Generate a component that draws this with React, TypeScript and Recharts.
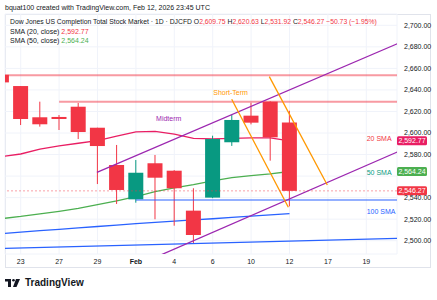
import React from 'react';
import {
  ComposedChart, Bar, Line, XAxis, YAxis, CartesianGrid, ReferenceLine, ReferenceDot,
} from 'recharts';

// ---- data ----
const dates = ['Jan 22', 'Jan 23', 'Jan 26', 'Jan 27', 'Jan 28', 'Jan 29', 'Jan 30', 'Feb 2', 'Feb 3', 'Feb 4', 'Feb 5', 'Feb 6', 'Feb 9', 'Feb 10', 'Feb 11', 'Feb 12'];
const opens = [2654, 2643.6, 2614.6, 2614.9, 2624.4, 2604.9, 2570.3, 2538.4, 2571.9, 2565.0, 2527.9, 2540.0, 2591.4, 2616.1, 2629.1, 2609.75];
const highs = [2656, 2643.6, 2629.1, 2616.7, 2627.9, 2604.9, 2588.9, 2574.9, 2579.6, 2565.5, 2548.7, 2597.5, 2616.7, 2628.1, 2629.5, 2620.63];
const lows = [2645, 2607.4, 2605.9, 2602.8, 2594.4, 2552.6, 2534.1, 2535.3, 2519.9, 2513.9, 2497.6, 2539.5, 2588.0, 2608.0, 2574.3, 2531.92];
const closes = [2647, 2613.0, 2608.1, 2613.0, 2600.9, 2587.9, 2547.1, 2563.1, 2558.5, 2548.7, 2505.3, 2594.4, 2612.1, 2609.6, 2596.0, 2546.27];
const sma20 = [2578, 2580.5, 2585, 2588, 2590.5, 2593, 2597, 2601, 2601.5, 2599, 2595, 2594.5, 2595, 2595.5, 2595.5, 2592.77];
const sma50 = [2520.5, 2522.5, 2525, 2527.3, 2530, 2533.5, 2537, 2541, 2545.5, 2549, 2552, 2555.5, 2558.5, 2560.5, 2562, 2564.24];
const sma100 = [2506.5, 2508, 2509.3, 2510.6, 2511.9, 2513.2, 2514.5, 2515.8, 2517, 2518.2, 2519.3, 2520.4, 2521.6, 2522.8, 2524, 2525.2];

const tickIdx = [1, 3, 5, 7, 9, 11, 13, 15, 17, 19];
const tickLabels = ['23', '27', '29', 'Feb', '4', '6', '10', '12', '17', '19'];
const priceTicks = [2500, 2520, 2540, 2560, 2580, 2600, 2620, 2640, 2660, 2680, 2700];
const hiddenPriceTicks = [2560];

// drawings (index, price)
const midUpper = [{ x: 4.97, y: 2563.4 }, { x: 21.8, y: 2691.9 }];
const midLower = [{ x: 7.8, y: 2482.9 }, { x: 21.8, y: 2591.6 }];
const shortA = [{ x: 11.99, y: 2631.3 }, { x: 14.94, y: 2531.0 }];
const shortB = [{ x: 13.95, y: 2652.3 }, { x: 16.97, y: 2551.7 }];
const resistTop = 2653.6;
const resist2 = [{ x: 3.0, y: 2629.1 }, { x: 22, y: 2629.1 }];
const supportBlue = [{ x: 7.0, y: 2537.8 }, { x: 22, y: 2537.8 }];
const blueTrend = [{ x: 0.18, y: 2492.9 }, { x: 20.6, y: 2502.2 }];
const lastClose = 2546.27;
const lastSma20 = 2592.77;
const lastSma50 = 2564.24;

const RED = '#f23645';
const GREEN = '#089981';
const PINK = '#e91e63';
const SGREEN = '#4caf50';
const BLUE = '#2962ff';
const PURPLE = '#9c27b0';
const ORANGE = '#ff9800';
const FONT = '"Liberation Sans", Arial, sans-serif';

const data = dates.map((d, i) => ({
  i,
  date: d,
  open: opens[i],
  high: highs[i],
  low: lows[i],
  close: closes[i],
  range: [lows[i], highs[i]],
  sma20: sma20[i],
  sma50: sma50[i],
  sma100: sma100[i],
}));

const fmt = (v: number) => v.toLocaleString('en-US', { minimumFractionDigits: 2, maximumFractionDigits: 2 });
const fmtTick = (v: number) => (hiddenPriceTicks.includes(v) ? '' : fmt(v));

const Candle = (props: any) => {
  const { x, y, width, height, payload } = props;
  if (!payload) return null;
  const { open, close, high, low } = payload;
  const top = Math.min(y, y + height);
  const bot = Math.max(y, y + height);
  const span = high - low || 1;
  const toPx = (p: number) => top + ((high - p) / span) * (bot - top);
  const color = close >= open ? GREEN : RED;
  const bTop = toPx(Math.max(open, close));
  const bBot = toPx(Math.min(open, close));
  const cx = x + width / 2;
  return (
    <g>
      <line x1={cx} x2={cx} y1={top} y2={bot} stroke={color} strokeWidth={1} />
      <rect x={x} y={bTop} width={width} height={Math.max(1, bBot - bTop)} fill={color} />
    </g>
  );
};

const TimeTick = (props: any) => {
  const { x, y, payload } = props;
  const k = tickIdx.indexOf(payload.value);
  const label = k >= 0 ? tickLabels[k] : '';
  return (
    <text x={x} y={y} dy={6} textAnchor="middle" fontSize={7} fontFamily={FONT}
      fill="#131722" fontWeight={label === 'Feb' ? 700 : 400}>{label}</text>
  );
};

const PriceTag = (props: any) => {
  const { viewBox, value, color } = props;
  if (!viewBox) return null;
  const bx = viewBox.x + viewBox.width;
  const by = viewBox.y;
  return (
    <g>
      <rect x={bx} y={by - 4.5} width={30} height={9} rx={1.5} fill={color} />
      <text x={bx + 15} y={by + 2.5} textAnchor="middle" fontSize={7} fontFamily={FONT} fill="#fff">{fmt(value)}</text>
    </g>
  );
};

const TextTag = (props: any) => {
  const { viewBox, text, color } = props;
  if (!viewBox) return null;
  return (
    <text x={viewBox.x} y={viewBox.y + 2.5} fontSize={7} fontFamily={FONT} fill={color}>{text}</text>
  );
};

export default function App() {
  return (
    <div style={{ position: 'fixed', left: 0, top: 0, width: 437, height: 300, background: '#fff', fontFamily: FONT }}>
      <div style={{ position: 'absolute', left: 5, top: 14, width: 426, height: 254, border: '1px solid #e0e3eb', boxSizing: 'border-box' }} />
      <ComposedChart width={437} height={300} data={data}
        margin={{ top: 14, right: 5, bottom: 31, left: 5 }}
        style={{ position: 'absolute', left: 0, top: 0 }}>
        <CartesianGrid stroke="#f0f3fa" />
        <XAxis dataKey="i" type="number" domain={[0.182, 20.6]} allowDataOverflow ticks={tickIdx}
          interval={0} tick={<TimeTick />} tickLine={false} axisLine={false} height={15} tickSize={2} />
        <YAxis orientation="right" type="number" domain={[2487.65, 2710.5]} allowDataOverflow ticks={priceTicks}
          interval={0} tickFormatter={fmtTick} tick={{ fontSize: 7, fill: '#131722', fontFamily: FONT }}
          tickLine={false} axisLine={false} width={35} tickSize={5} />
        <Line dataKey="sma100" stroke={BLUE} strokeWidth={1.3} dot={false} isAnimationActive={false} zIndex={250} />
        <Line dataKey="sma50" stroke={SGREEN} strokeWidth={1.3} dot={false} isAnimationActive={false} zIndex={250} />
        <Line dataKey="sma20" stroke={PINK} strokeWidth={1.3} dot={false} isAnimationActive={false} zIndex={250} />
        <Bar dataKey="range" barSize={15} shape={<Candle />} isAnimationActive={false} zIndex={300} />
        <ReferenceLine y={resistTop} stroke={RED} strokeOpacity={0.5} strokeWidth={2} zIndex={450} />
        <ReferenceLine segment={resist2} stroke={RED} strokeOpacity={0.5} strokeWidth={2} ifOverflow="hidden" zIndex={450} />
        <ReferenceLine segment={supportBlue} stroke={BLUE} strokeOpacity={0.5} strokeWidth={2} ifOverflow="hidden" zIndex={450} />
        <ReferenceLine segment={blueTrend} stroke={BLUE} strokeWidth={1.2} ifOverflow="hidden" zIndex={450} />
        <ReferenceLine segment={midUpper} stroke={PURPLE} strokeWidth={1.3} ifOverflow="hidden" zIndex={450} />
        <ReferenceLine segment={midLower} stroke={PURPLE} strokeWidth={1.3} ifOverflow="hidden" zIndex={450} />
        <ReferenceLine segment={shortA} stroke={ORANGE} strokeWidth={1.3} ifOverflow="hidden" zIndex={450} />
        <ReferenceLine segment={shortB} stroke={ORANGE} strokeWidth={1.3} ifOverflow="hidden" zIndex={450} />
        <ReferenceLine y={lastClose} stroke={RED} strokeOpacity={0.6} strokeDasharray="2 2" strokeWidth={0.8} zIndex={450}
          label={<PriceTag value={lastClose} color={RED} />} />
        <ReferenceLine y={lastSma20} stroke="none" strokeWidth={0} zIndex={450}
          label={<PriceTag value={lastSma20} color={PINK} />} />
        <ReferenceLine y={lastSma50} stroke="none" strokeWidth={0} zIndex={450}
          label={<PriceTag value={lastSma50} color={SGREEN} />} />
        <ReferenceDot x={8.05} y={2613.9} r={0} fill="none" stroke="none" label={<TextTag text="Midterm" color={PURPLE} />} />
        <ReferenceDot x={11.03} y={2638.0} r={0} fill="none" stroke="none" label={<TextTag text="Short-Term" color={ORANGE} />} />
        <ReferenceDot x={19.02} y={2594.9} r={0} fill="none" stroke="none" label={<TextTag text="20 SMA" color={RED} />} />
        <ReferenceDot x={19.02} y={2563.5} r={0} fill="none" stroke="none" label={<TextTag text="50 SMA" color={GREEN} />} />
        <ReferenceDot x={19.02} y={2527.0} r={0} fill="none" stroke="none" label={<TextTag text="100 SMA" color={BLUE} />} />
      </ComposedChart>
      <div style={{ position: 'absolute', left: 5, top: 3, fontSize: 7, color: '#131722', whiteSpace: 'nowrap', lineHeight: '9px' }}>
        bquat100 created with TradingView.com, Feb 12, 2026 23:45 UTC
      </div>
      <div style={{ position: 'absolute', left: 10, top: 17, fontSize: 6.8, color: '#131722', whiteSpace: 'nowrap', lineHeight: '9px' }}>
        Dow Jones US Completion Total Stock Market · 1D · DJCFD{' '}
        <span>O</span><span style={{ color: RED }}>2,609.75</span>{' '}
        <span>H</span><span style={{ color: RED }}>2,620.63</span>{' '}
        <span>L</span><span style={{ color: RED }}>2,531.92</span>{' '}
        <span>C</span><span style={{ color: RED }}>2,546.27</span>{' '}
        <span style={{ color: RED }}>−50.73 (−1.95%)</span>
      </div>
      <div style={{ position: 'absolute', left: 10, top: 27, fontSize: 7, color: '#131722', whiteSpace: 'nowrap', lineHeight: '9px' }}>
        SMA (20, close) <span style={{ color: RED }}>2,592.77</span>
      </div>
      <div style={{ position: 'absolute', left: 10, top: 36, fontSize: 7, color: '#131722', whiteSpace: 'nowrap', lineHeight: '9px' }}>
        SMA (50, close) <span style={{ color: SGREEN }}>2,564.24</span>
      </div>
      <div style={{ position: 'absolute', left: 5, top: 278, display: 'flex', alignItems: 'center', gap: 4 }}>
        <svg width={16} height={10} viewBox="0 0 16 10">
          <rect x={0} y={1} width={6} height={2.5} fill="#131722" />
          <rect x={3} y={1} width={3} height={8} fill="#131722" />
          <circle cx={8.5} cy={2.3} r={1.3} fill="#131722" />
          <polygon points="11,1 15,1 11.5,9 8,9" fill="#131722" />
        </svg>
        <span style={{ fontSize: 10, fontWeight: 600, color: '#131722', lineHeight: '10px' }}>TradingView</span>
      </div>
    </div>
  );
}
